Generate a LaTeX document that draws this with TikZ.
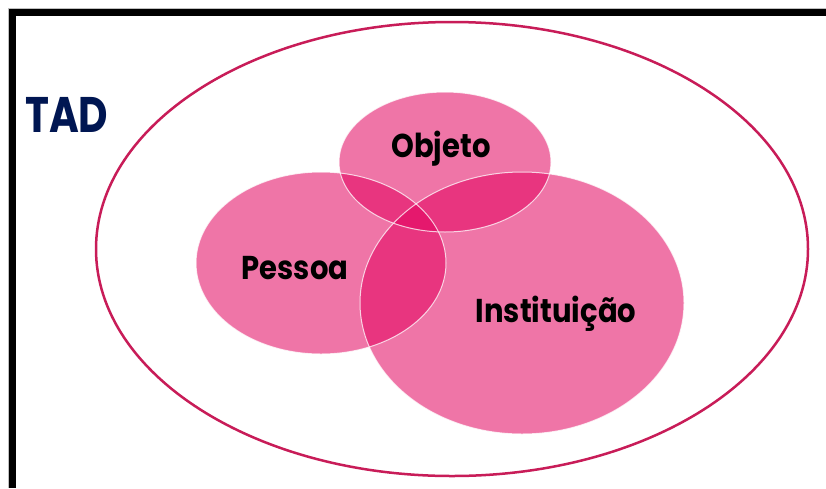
\documentclass[tikz,border=0pt]{standalone}
\usepackage{fontspec}
\setmainfont{Poppins}
\newfontfamily\lblfont{Poppins}[FakeStretch=0.88]
\newfontfamily\tadfont{Poppins}[FakeStretch=0.81]
\definecolor{tadblue}{RGB}{0,22,82}
\definecolor{ringred}{RGB}{200,28,88}
\definecolor{petal}{RGB}{227,0,94}
\begin{document}
\begin{tikzpicture}[x=1pt,y=-1pt,
  petalfill/.style={fill=petal,fill opacity=0.54},
  petaledge/.style={draw=white,line width=1pt,draw opacity=0.75},
  lbl/.style={font=\lblfont\fontsize{33}{36}\selectfont\bfseries,text=black,inner sep=0pt}]
\useasboundingbox (0,0) rectangle (826,488);
\fill[white] (0,0) rectangle (826,488);
% frame
\draw[gray!50,line width=1pt] (8.5,488) -- (8.5,8.5) -- (826,8.5);
\draw[black,line width=7pt] (12.5,488) -- (12.5,12.5) -- (826,12.5);
% outer ellipse
\draw[ringred,line width=2.5pt] (452,249) ellipse [x radius=356,y radius=227];
\node[font=\tadfont\fontsize{50}{54}\selectfont\bfseries,text=tadblue,anchor=base west,inner sep=0pt] (tad) at (25,132) {TAD};
% petals
\fill[petalfill] (445,162) ellipse [x radius=106,y radius=70];
\fill[petalfill] (321,263) ellipse [x radius=125,y radius=91];
\fill[petalfill] (522,303) ellipse [x radius=162,y radius=131];
\draw[petaledge] (445,162) ellipse [x radius=106,y radius=70];
\draw[petaledge] (321,263) ellipse [x radius=125,y radius=91];
\draw[petaledge] (522,303) ellipse [x radius=162,y radius=131];
\node[lbl,anchor=base] (obj) at (441,157) {Objeto};
\node[lbl,anchor=base] (pes) at (295,279) {Pessoa};
\node[lbl,anchor=base] (ins) at (556,322) {Instituição};
\end{tikzpicture}
\end{document}
